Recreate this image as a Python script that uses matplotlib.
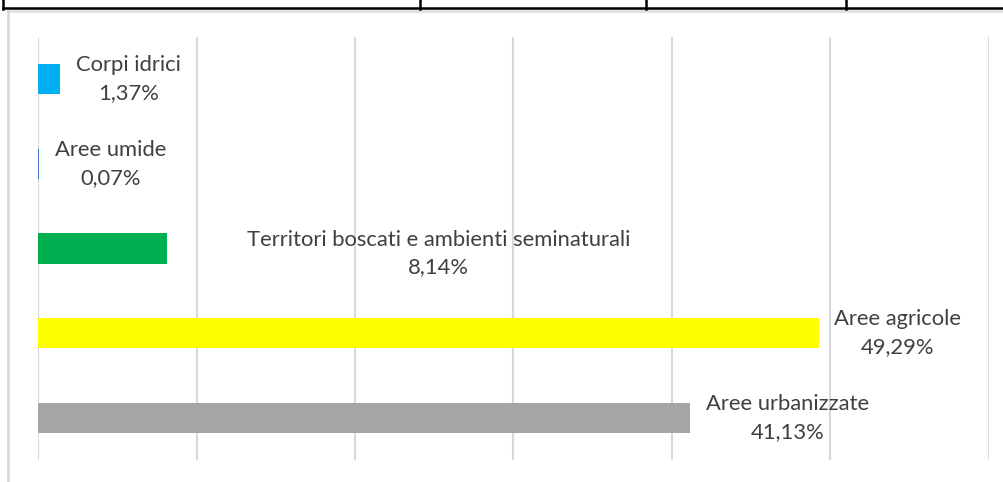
import matplotlib.pyplot as plt
from matplotlib.lines import Line2D

# categorie (dal basso verso l'alto)
categorie = ['Aree urbanizzate', 'Aree agricole',
             'Territori boscati e ambienti seminaturali',
             'Aree umide', 'Corpi idrici']
percentuali = [41.13, 49.29, 8.14, 0.07, 1.37]
colori = ['#A5A5A5', '#FFFF00', '#00B050', '#4472C4', '#00B0F0']
# spostamento etichette (pixel) rispetto alla fine della barra
spost_x = [16, 15, 80, 16, 16]
spost_y = [0, 0, -5, 0, 0]

plt.rcParams['font.family'] = ['Lato', 'DejaVu Sans']

fig = plt.figure(figsize=(10.04, 4.82), dpi=100)
W, H = 1004, 482
ax = fig.add_axes([38 / W, (H - 460) / H, (989 - 38) / W, (460 - 37) / H])

y = range(len(categorie))
ax.barh(y, [p / 100 for p in percentuali], height=0.355, color=colori, zorder=2)

ax.set_xlim(0, 0.6)
ax.set_ylim(-0.5, len(categorie) - 0.5)
ax.set_xticks([i / 10 for i in range(7)])
ax.set_xticklabels([])
ax.set_yticks([])
ax.tick_params(length=0)
ax.grid(axis='x', color='#D9D9D9', linewidth=1.5, zorder=0)
for s in ax.spines.values():
    s.set_visible(False)

for i, (nome, p) in enumerate(zip(categorie, percentuali)):
    testo = nome + '\n' + ('%.2f' % p).replace('.', ',') + '%'
    ax.annotate(testo, xy=(p / 100, i), xytext=(spost_x[i], spost_y[i]),
                textcoords='offset pixels', ha='left', va='center',
                multialignment='center', fontsize=15.8, color='#404040',
                linespacing=1.5, zorder=3)

# cornice e bordo della tabella sopra
def px(x0, y0, x1, y1, **kw):
    fig.add_artist(Line2D([x0 / W, x1 / W], [1 - y0 / H, 1 - y1 / H],
                          transform=fig.transFigure, **kw))

px(8, 11, 1004, 11, color='#E0E0E0', linewidth=2)
px(8, 11, 8, 482, color='#D9D9D9', linewidth=2)
px(3, 8, 1004, 8, color='black', linewidth=1.8)
for xv in [3, 420, 646, 846]:
    px(xv, 0, xv, 9, color='black', linewidth=1.8)

fig.savefig('out.png', dpi=100)
